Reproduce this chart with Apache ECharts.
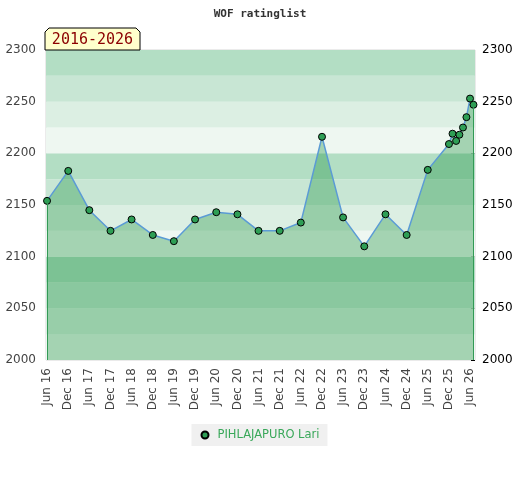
<!DOCTYPE html>
<html>
<head>
<meta charset="utf-8">
<title>WOF ratinglist</title>
<script src="https://cdn.jsdelivr.net/npm/echarts@6/dist/echarts.min.js"></script>
<style>
  html, body { margin: 0; padding: 0; background: #fff; }
  #chart { width: 520px; height: 480px; }
</style>
</head>
<body>
<div id="chart"></div>
<script>
// rating list dates and ratings
var dates = [
    '2016-06-01', '2016-12-01', '2017-06-01', '2017-12-01', '2018-06-01',
    '2018-12-01', '2019-06-01', '2019-12-01', '2020-06-01', '2020-12-01',
    '2021-06-01', '2021-12-01', '2022-06-01', '2022-12-01', '2023-06-01',
    '2023-12-01', '2024-06-01', '2024-12-01', '2025-06-01', '2025-12-01',
    '2026-01-01', '2026-02-01', '2026-03-01', '2026-04-01', '2026-05-01',
    '2026-06-01', '2026-07-01'
];
var ratings = [
    2154, 2183, 2145, 2125, 2136,
    2121, 2115, 2136, 2143, 2141,
    2125, 2125, 2133, 2216, 2138,
    2110, 2141, 2121, 2184, 2209,
    2219, 2212, 2218, 2225, 2235,
    2253, 2247
];
// x tick labels (every half year)
var tickDates = [
    '2016-06-01', '2016-12-01', '2017-06-01', '2017-12-01', '2018-06-01',
    '2018-12-01', '2019-06-01', '2019-12-01', '2020-06-01', '2020-12-01',
    '2021-06-01', '2021-12-01', '2022-06-01', '2022-12-01', '2023-06-01',
    '2023-12-01', '2024-06-01', '2024-12-01', '2025-06-01', '2025-12-01',
    '2026-06-01'
];
var monthNames = ['Jan', 'Feb', 'Mar', 'Apr', 'May', 'Jun', 'Jul', 'Aug', 'Sep', 'Oct', 'Nov', 'Dec'];
// background bands, 25 points each
var bandEdges = [2000, 2025, 2050, 2075, 2100, 2125, 2150, 2175, 2200, 2225, 2250, 2275, 2300];
var bandColors = ['#eef7f1', '#dcefe3', '#c8e6d4', '#b3dec4'];

function toTime(s) {
    var p = s.split('-');
    return Date.UTC(+p[0], +p[1] - 1, +p[2]);
}

var seriesData = dates.map(function (d, i) {
    return [toTime(d), ratings[i]];
});

var bands = [];
for (var i = 0; i < bandEdges.length - 1; i++) {
    bands.push([
        { yAxis: bandEdges[i], itemStyle: { color: bandColors[i % 4] } },
        { yAxis: bandEdges[i + 1] }
    ]);
}

var first = seriesData[0], last = seriesData[seriesData.length - 1];
var plainNum = function (v) { return String(v); };

var myChart = echarts.init(document.getElementById('chart'));
myChart.setOption({
    animation: false,
    title: {
        text: 'WOF ratinglist',
        left: 'center',
        top: 4,
        textStyle: {
            fontFamily: 'DejaVu Sans Mono',
            fontWeight: 'bold',
            fontSize: 11,
            color: '#333'
        }
    },
    legend: {
        bottom: 34,
        left: 'center',
        backgroundColor: '#f0f0f0',
        padding: [5, 8, 5, 9],
        itemWidth: 7,
        itemHeight: 7,
        textStyle: { color: '#3aa85a', fontSize: 11.5, fontFamily: 'DejaVu Sans', padding: [0, 0, 0, 4] },
        data: [{ name: 'PIHLAJAPURO Lari', icon: 'circle' }]
    },
    grid: {
        left: 46,
        right: 45,
        top: 50,
        bottom: 120,
        show: true,
        borderColor: '#d6d6d6',
        borderWidth: 1,
        backgroundColor: 'transparent'
    },
    graphic: [
        {
            type: 'polygon',
            shape: { points: [[45, 50], [45, 32], [49, 28], [136, 28], [140, 32], [140, 50]] },
            style: { fill: '#ffffcc', stroke: '#000', lineWidth: 1 },
            z: 10
        },
        {
            type: 'text',
            x: 92.5,
            y: 40,
            style: {
                text: '2016-2026',
                fill: '#8b0000',
                font: '15px "DejaVu Sans Mono"',
                align: 'center',
                verticalAlign: 'middle'
            },
            z: 11
        }
    ],
    xAxis: {
        type: 'value',
        min: toTime('2016-05-23'),
        max: toTime('2026-07-14'),
        axisLine: { show: false },
        axisTick: { show: false },
        splitLine: { show: false },
        axisLabel: {
            rotate: 90,
            margin: 8,
            color: '#444',
            fontSize: 12,
            fontFamily: 'DejaVu Sans',
            hideOverlap: false,
            customValues: tickDates.map(toTime),
            formatter: function (value) {
                var d = new Date(value);
                return monthNames[d.getUTCMonth()] + ' ' + String(d.getUTCFullYear()).slice(2);
            }
        }
    },
    yAxis: [
        {
            type: 'value',
            min: 2000,
            max: 2300,
            interval: 50,
            axisLine: { show: false },
            axisTick: { show: false },
            splitLine: { show: false },
            axisLabel: { color: '#444', fontSize: 12, fontFamily: 'DejaVu Sans', margin: 10, formatter: plainNum }
        },
        {
            type: 'value',
            position: 'right',
            min: 2000,
            max: 2300,
            interval: 50,
            axisLine: { show: false },
            axisTick: { show: true, inside: true, length: 4, lineStyle: { color: '#000' } },
            minorTick: { show: true, splitNumber: 5, length: 3, lineStyle: { color: '#000' } },
            splitLine: { show: false },
            axisLabel: { color: '#000', fontSize: 12, fontFamily: 'DejaVu Sans', margin: 7, formatter: plainNum }
        }
    ],
    series: [
        {
            name: 'PIHLAJAPURO Lari',
            type: 'line',
            data: seriesData,
            symbol: 'circle',
            symbolSize: 7,
            showAllSymbol: true,
            lineStyle: { color: '#5b9bd5', width: 1.5 },
            itemStyle: { color: '#2e9e55', borderColor: '#000', borderWidth: 1 },
            areaStyle: { color: 'rgba(8,138,48,0.46)', origin: 'start' },
            markArea: {
                silent: true,
                data: bands
            },
            markLine: {
                silent: true,
                symbol: 'none',
                label: { show: false },
                lineStyle: { color: '#329a55', width: 1, type: 'solid' },
                data: [
                    [{ coord: [first[0], first[1]] }, { coord: [first[0], 2000] }],
                    [{ coord: [last[0], last[1]] }, { coord: [last[0], 2000] }]
                ]
            }
        }
    ]
});
</script>
</body>
</html>
